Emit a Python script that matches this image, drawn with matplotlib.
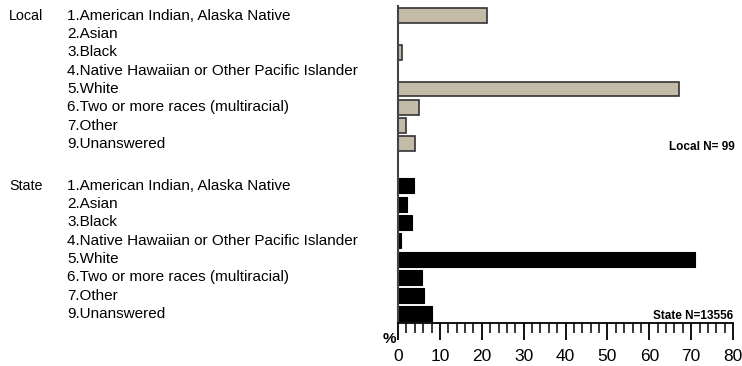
import matplotlib
matplotlib.use("Agg")
import matplotlib.pyplot as plt
import matplotlib.transforms as mtransforms
from matplotlib.ticker import MultipleLocator
import numpy as np

plt.rcParams['font.family'] = ['Liberation Sans', 'DejaVu Sans']

categories = ["1.American Indian, Alaska Native", "2.Asian", "3.Black",
              "4.Native Hawaiian or Other Pacific Islander", "5.White",
              "6.Two or more races (multiracial)", "7.Other", "9.Unanswered"]
local_pct = [21.2, 0, 1.0, 0, 67.2, 5.1, 2.0, 4.0]
state_pct = [3.8, 2.1, 3.3, 0.7, 71.0, 5.7, 6.3, 8.0]
local_n = "Local N= 99"
state_n = "State N=13556"

# row positions, local on top then a gap before state
local_y = np.arange(len(categories))
state_y = local_y + 9.3

fig = plt.figure(figsize=(7.42, 3.66), dpi=100)
ax = fig.add_axes([0.5364, 0.1175, 0.4515, 0.8661])

ax.barh(local_y, local_pct, height=0.82, color='#c3bba8', edgecolor='#333333', linewidth=1.2)
ax.barh(state_y, state_pct, height=0.82, color='black', edgecolor='black', linewidth=0.8)

ax.set_xlim(0, 80)
ax.set_ylim(16.8, -0.54)
ax.set_yticks([])
ax.xaxis.set_major_locator(MultipleLocator(10))
ax.xaxis.set_minor_locator(MultipleLocator(2))
ax.tick_params(axis='x', which='major', length=12, width=1.3, labelsize=12.5, pad=7)
ax.tick_params(axis='x', which='minor', length=7, width=1.1)
for s in ['top', 'right']:
    ax.spines[s].set_visible(False)
ax.spines['left'].set_color('#444444')
ax.spines['left'].set_linewidth(1.5)
ax.spines['bottom'].set_linewidth(1.3)

# labels on the left in figure x / data y
trans = mtransforms.blended_transform_factory(fig.transFigure, ax.transData)
fig.text(9 / 742, local_y[0], "Local", transform=trans, va='center', fontsize=10.3)
fig.text(9 / 742, state_y[0], "State", transform=trans, va='center', fontsize=10.3)
for i, c in enumerate(categories):
    fig.text(67 / 742, local_y[i], c, transform=trans, va='center', fontsize=11)
    fig.text(67 / 742, state_y[i], c, transform=trans, va='center', fontsize=11)

trans_ax = mtransforms.blended_transform_factory(ax.transAxes, ax.transData)
ax.text(1.004, local_y[-1] + 0.15, local_n, transform=trans_ax,
        ha='right', va='center', fontsize=8.5, fontweight='bold')
ax.text(1.0, state_y[-1] + 0.1, state_n, transform=trans_ax,
        ha='right', va='center', fontsize=8.5, fontweight='bold')
fig.text(389 / 742, 1 - 339 / 366, "%", ha='center', va='center', fontsize=11, fontweight='bold')

fig.savefig("out.png", dpi=100)
